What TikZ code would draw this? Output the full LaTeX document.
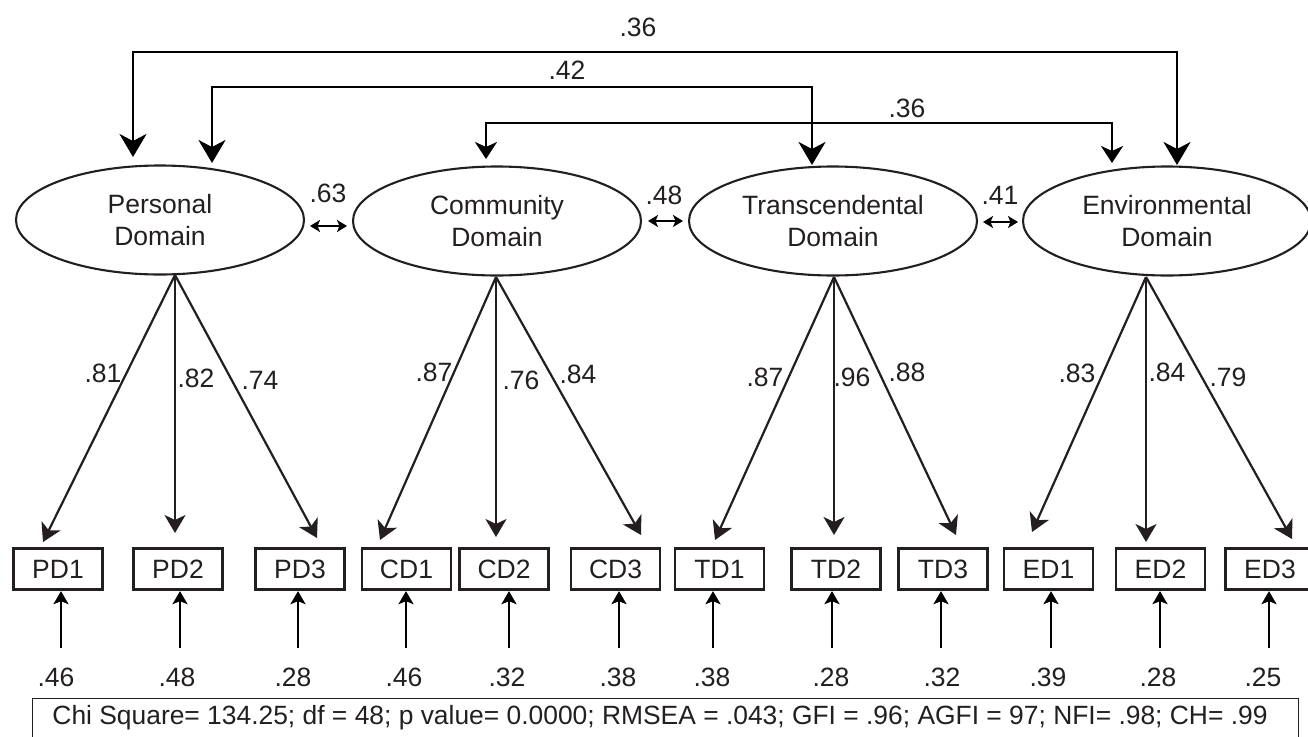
\documentclass[tikz,border=0pt]{standalone}
\usepackage{fontspec}
\setmainfont{Liberation Sans}
\usetikzlibrary{arrows.meta,shapes.geometric}
\definecolor{ink}{RGB}{35,31,32}
\tikzset{
  lat/.style={draw=ink,ellipse,line width=2.1pt,minimum width=288pt,minimum height=109pt,inner sep=0pt,align=center,font=\fontsize{26.5}{32}\selectfont,text=ink},
  obs/.style={draw=ink,rectangle,line width=2.8pt,minimum width=89pt,minimum height=41.5pt,inner sep=0pt,font=\fontsize{26.5}{30}\selectfont,text=ink},
  lbl/.style={inner sep=0pt,font=\fontsize{26.5}{30}\selectfont,text=ink},
  load/.style={draw=ink,line width=2.2pt,-{Stealth[length=18pt,width=21pt,inset=5pt]}},
  errarr/.style={draw=black,line width=2.4pt,-{Stealth[length=13pt,width=15pt,inset=3pt]}},
  bigcov/.style={draw=black,line width=2.6pt,{Stealth[length=23pt,width=27pt,inset=7pt]}-{Stealth[length=23pt,width=27pt,inset=7pt]}},
  smcov/.style={draw=black,line width=2.6pt,{Stealth[length=17pt,width=22pt,inset=5pt]}-{Stealth[length=17pt,width=22pt,inset=5pt]}},
  dblarr/.style={draw=black,line width=2.4pt,{Stealth[length=10pt,width=12pt,inset=2.5pt]}-{Stealth[length=10pt,width=12pt,inset=2.5pt]}}
}
\begin{document}
\begin{tikzpicture}[x=1pt,y=-1pt]
\useasboundingbox (0,0) rectangle (1308,736);
% latent factors
\node[lat] (P) at (160,220) {Personal\\Domain};
\node[lat] (C) at (497,221) {Community\\Domain};
\node[lat] (T) at (833,221) {Transcendental\\Domain};
\node[lat] (E) at (1167,221) {Environmental\\Domain};
% observed indicators
\node[obs] (PD1) at (58,569) {PD1};
\node[obs] (PD2) at (178,569) {PD2};
\node[obs] (PD3) at (300,569) {PD3};
\node[obs] (CD1) at (406.5,569) {CD1};
\node[obs] (CD2) at (504,569) {CD2};
\node[obs] (CD3) at (615.5,569) {CD3};
\node[obs] (TD1) at (719.5,569) {TD1};
\node[obs] (TD2) at (836,569) {TD2};
\node[obs] (TD3) at (943,569) {TD3};
\node[obs] (ED1) at (1048.5,569) {ED1};
\node[obs] (ED2) at (1160.5,569) {ED2};
\node[obs] (ED3) at (1270,569) {ED3};
% loading origins
\coordinate (Pb) at (175,275);
\coordinate (Cb) at (496,277);
\coordinate (Tb) at (834,277);
\coordinate (Eb) at (1146,277);
% loading tips
\coordinate (tP1) at (43,542);
\coordinate (tP2) at (175,533);
\coordinate (tP3) at (317,538);
\coordinate (tC1) at (380,540);
\coordinate (tC2) at (496,537);
\coordinate (tC3) at (641,535);
\coordinate (tT1) at (715,540);
\coordinate (tT2) at (834,535);
\coordinate (tT3) at (956,535);
\coordinate (tE1) at (1032,532);
\coordinate (tE2) at (1146,542);
\coordinate (tE3) at (1292,539);
\foreach \f/\i in {P/P1,P/P2,P/P3,C/C1,C/C2,C/C3,T/T1,T/T2,T/T3,E/E1,E/E2,E/E3}
  \draw[load] (\f b) -- (t\i);
% loading labels
\node[lbl] (l1) at (103,373) {.81};
\node[lbl] (l2) at (196,378) {.82};
\node[lbl] (l3) at (260,380) {.74};
\node[lbl] (l4) at (434,372) {.87};
\node[lbl] (l5) at (521,380) {.76};
\node[lbl] (l6) at (578,374) {.84};
\node[lbl] (l7) at (765,377) {.87};
\node[lbl] (l8) at (852,377) {.96};
\node[lbl] (l9) at (907,372) {.88};
\node[lbl] (l10) at (1077,373) {.83};
\node[lbl] (l11) at (1167,372) {.84};
\node[lbl] (l12) at (1228,377) {.79};
% error arrows
\foreach \b/\x/\lx/\v in {PD1/61/56/.46,PD2/180/177/.48,PD3/298/293/.28,CD1/406/404/.46,CD2/509/507/.32,CD3/619/618/.38,TD1/713/712/.38,TD2/832/831/.28,TD3/941/942/.32,ED1/1051/1048/.39,ED2/1160/1158/.28,ED3/1269/1263/.25}{
  \coordinate (e\b) at (\x,648);
  \draw[errarr] (e\b) -- (e\b |- \b.south);
  \node[lbl] (v\b) at (\lx,677) {\v};
}
% factor covariances (top)
\coordinate (a1) at (133,157);
\coordinate (a2) at (1177,165);
\coordinate (h1) at (655,52);
\draw[bigcov] (a1) |- (h1) -| (a2);
\coordinate (b1) at (212,163);
\coordinate (b2) at (812,165);
\coordinate (h2) at (512,87);
\draw[bigcov] (b1) |- (h2) -| (b2);
\coordinate (c1) at (486,159);
\coordinate (c2) at (1112,163);
\coordinate (h3) at (800,123);
\draw[smcov] (c1) |- (h3) -| (c2);
\node[lbl] (k1) at (638,27) {.36};
\node[lbl] (k2) at (567,70) {.42};
\node[lbl] (k3) at (907,108) {.36};
% adjacent covariances
\coordinate (d1) at (310,226); \coordinate (d2) at (347,226);
\coordinate (d3) at (648,221); \coordinate (d4) at (683,221);
\coordinate (d5) at (983,222); \coordinate (d6) at (1018,222);
\draw[dblarr] (d1) -- (d2);
\draw[dblarr] (d3) -- (d4);
\draw[dblarr] (d5) -- (d6);
\node[lbl] (m1) at (328,193) {.63};
\node[lbl] (m2) at (664,195) {.48};
\node[lbl] (m3) at (1000,195) {.41};
% fit box
\node[draw=ink,line width=1.9pt,minimum width=1266pt,minimum height=50pt,inner sep=0pt,anchor=north west] (fit) at (31.5,697.5) {};
\node[inner sep=0pt,text=ink,font=\fontsize{26.4}{30}\selectfont] (fittext) at (660,718) {Chi Square= 134.25; df = 48; p value= 0.0000; RMSEA = .043; GFI = .96; AGFI = 97; NFI= .98; CH= .99};
\end{tikzpicture}
\end{document}
